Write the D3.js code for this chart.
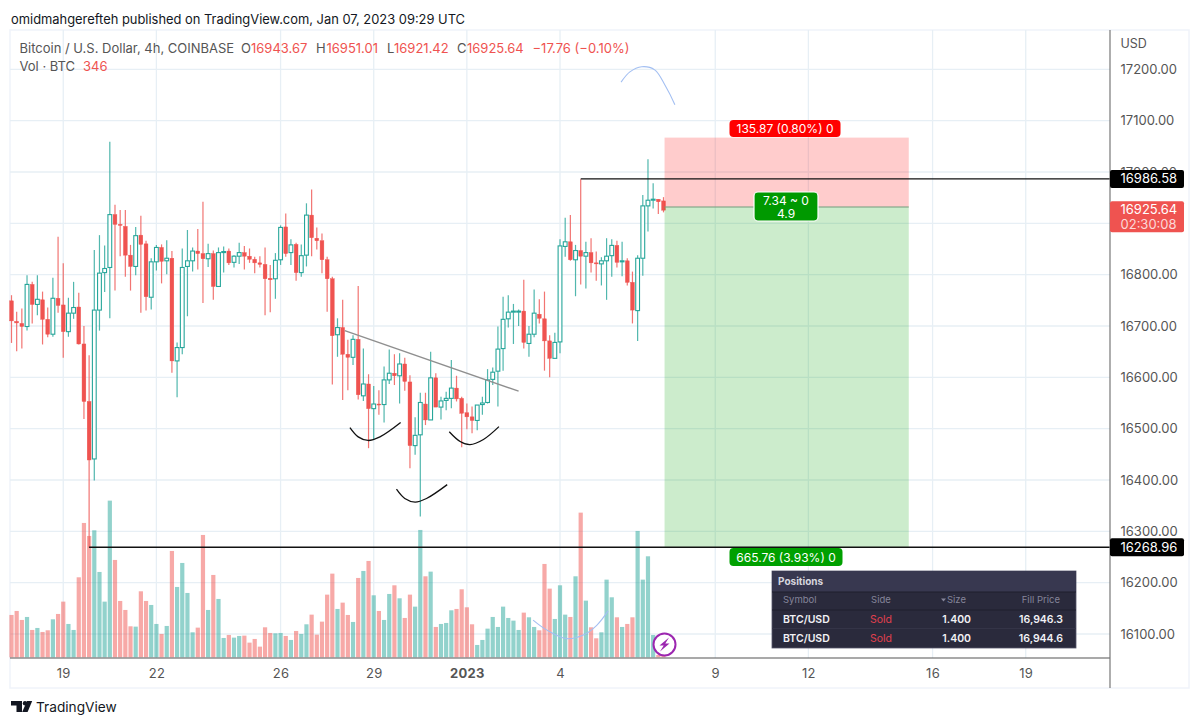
<!DOCTYPE html>
<html>
<head>
<meta charset="utf-8">
<script src="https://d3js.org/d3.v7.min.js"></script>
<style>
  html, body { margin: 0; padding: 0; background: #fff; }
  svg { display: block; }
  text { font-family: Inter, "Liberation Sans", sans-serif; }
</style>
</head>
<body>
<svg id="chart" width="1200" height="726"></svg>
<script>
const opens = [16749,16709,16705,16699,16781,16742,16751,16713,16684,16754,16741,16689,16725,16737,16665,16553,16441,16731,16804,16814,16917,16898,16894,16838,16816,16877,16860,16756,16825,16853,16827,16832,16632,16658,16816,16827,16846,16841,16831,16841,16777,16844,16846,16824,16836,16843,16836,16830,16823,16820,16793,16792,16829,16893,16843,16859,16804,16838,16916,16871,16866,16829,16792,16683,
  16697,16645,16639,16674,16564,16587,16539,16548,16547,16595,16608,16603,16626,16591,16467,16488,16548,16517,16599,16542,16555,16559,16579,16559,16531,16523,16516,16547,16551,16596,16612,16656,16714,16727,16728,16729,16666,16684,16723,16714,16671,16637,16669,16855,16864,16829,16847,16836,16843,16823,16821,16827,16837,16857,16825,16827,16785,16730,16832,16934,16946,16947,16943.67];
const closes = [16710,16706,16699,16781,16742,16752,16713,16684,16754,16740,16689,16725,16736,16665,16553,16439,16731,16803,16812,16917,16898,16896,16838,16816,16876,16859,16757,16825,16853,16826,16832,16632,16658,16814,16827,16846,16841,16831,16841,16777,16843,16845,16823,16836,16843,16836,16830,16823,16820,16792,16790,16828,16892,16841,16858,16804,16837,16916,16872,16866,16829,16792,16681,16697,
  16645,16639,16674,16566,16587,16539,16548,16547,16595,16608,16603,16626,16592,16467,16487,16551,16517,16599,16542,16554,16559,16579,16558,16530,16523,16516,16546,16550,16595,16610,16655,16713,16727,16729,16729,16668,16684,16725,16715,16671,16637,16668,16856,16864,16829,16847,16836,16843,16823,16821,16827,16836,16857,16824,16827,16785,16731,16832,16934,16945,16947,16942,16925.64];
const highs = [16760,16728,16734,16799,16786,16799,16767,16736,16794,16874,16822,16755,16786,16765,16700,16643,16848,16877,16857,17059,16936,16926,16926,16858,16893,16915,16866,16832,16858,16859,16867,16846,16668,16851,16887,16853,16889,16942,16860,16847,16853,16855,16851,16838,16862,16856,16851,16835,16836,16853,16819,16842,16896,16919,16869,16862,16859,16939,16966,16892,16880,16835,16796,16715,
  16751,16673,16682,16778,16656,16606,16583,16575,16621,16654,16645,16647,16638,16604,16522,16570,16570,16650,16608,16562,16572,16634,16603,16562,16549,16543,16546,16562,16616,16619,16699,16757,16760,16743,16732,16790,16700,16771,16752,16767,16682,16687,16869,16911,16916,16858,16986,16864,16871,16845,16834,16871,16869,16866,16864,16832,16806,16838,16955,17025,16978,16947,16951.01];
const lows = [16667,16651,16656,16691,16705,16721,16664,16678,16679,16726,16638,16679,16714,16664,16519,16268,16399,16691,16766,16715,16769,16836,16796,16769,16799,16726,16730,16732,16808,16783,16801,16609,16561,16645,16719,16806,16810,16745,16815,16751,16777,16804,16819,16814,16821,16810,16823,16803,16814,16721,16727,16753,16819,16835,16819,16788,16796,16816,16836,16849,16803,16728,16586,16640,
  16556,16575,16624,16557,16554,16462,16479,16527,16512,16587,16585,16549,16574,16423,16449,16329,16507,16517,16542,16518,16536,16540,16553,16464,16499,16491,16497,16527,16549,16585,16543,16613,16697,16665,16700,16656,16640,16678,16705,16613,16600,16637,16647,16835,16827,16758,16781,16773,16804,16788,16779,16751,16796,16814,16797,16779,16705,16671,16798,16884,16929,16918,16921.42];
const volumes = [1270,1390,1120,1210,820,880,760,810,1140,1300,1670,1000,820,2400,4030,3640,3810,2560,1670,4700,2920,1690,1420,930,920,1980,1690,1570,1000,700,940,3190,2110,2830,1930,750,890,3670,1420,2470,1750,580,670,590,640,650,440,550,320,900,730,720,730,640,520,790,700,990,1280,680,1070,1880,2510,1450,
  1640,1270,1060,2380,2590,2890,1860,1390,1120,1900,2160,1770,1180,1880,1520,3820,2430,2570,910,1000,1030,1410,1450,2040,1500,990,370,520,860,1210,910,1520,1180,1100,820,1340,1200,910,810,2800,2060,1150,2160,1280,1210,2430,4340,1700,900,570,750,2330,1800,1200,910,1000,1200,3790,2330,3030,670,70,346];

const priceTicks = [17200,17100,17000,16900,16800,16700,16600,16500,16400,16300,16200,16100];
const timeBars = [10,28,52,70,88,106,136,154,178,196];
const timeLabels = ['19','22','26','29','2023','4','9','12','16','19'];

const priceAlerts = [16986.58, 16268.96];
const alertFromBar = [110, 15];
const lastPrice = 16925.64;
const entryPrice = 16932, stopPrice = 17067, targetPrice = 16268.96;
const zoneBars = [126.2, 173.4];

// hand drawn bits, as [bar, price]
const neckline = [[64.4,16691],[98,16573]];
const blackCurves = [
  [[65.4,16502],[67,16484],[68.9,16477],[71.2,16484],[75.2,16512]],
  [[74.4,16382],[76,16364],[78,16357],[80.2,16364],[84.2,16391]],
  [[84.6,16494],[86.7,16475],[88.6,16469],[91.2,16479],[94.2,16504]]
];
const blueCurves = [
  [[117.8,17175],[119.5,17195],[121.8,17205],[124.3,17199],[126.3,17169],[128.2,17131]],
  [[100.8,16127],[103.4,16108],[107.3,16091],[110.5,16098],[113.1,16117],[115.3,16145]]
];

const posColumns = ['Symbol','Side','Size','Fill Price'];
const posSymbols = ['BTC/USD','BTC/USD'];
const posSides = ['Sold','Sold'];
const posSizes = ['1.400','1.400'];
const posFills = ['16,946.3','16,944.6'];

const red = '#ef5350', green = '#26a69a';
const chartL = 10, chartR = 1110, chartT = 30, chartB = 658, outerR = 1189, outerB = 688;

const svg = d3.select('#chart');
const x = d3.scaleLinear().domain([0,126]).range([11.5,663.5]);
const y = d3.scaleLinear().domain([17000,16100]).range([172,634]);
const yVol = d3.scaleLinear().domain([0,6000]).range([657.3,457.3]);

// frame + grid
svg.append('rect').attr('x',chartL).attr('y',chartT)
  .attr('width',outerR-chartL).attr('height',outerB-chartT)
  .attr('fill','#fff').attr('stroke','#f0f3fa').attr('stroke-width',1.5);

const grid = svg.append('g').attr('stroke','#e7eff5').attr('stroke-width',1.3);
grid.selectAll('.gx').data(timeBars).join('line')
  .attr('x1',d=>x(d)).attr('x2',d=>x(d)).attr('y1',chartT).attr('y2',chartB);
grid.selectAll('.gy').data(priceTicks).join('line')
  .attr('x1',chartL).attr('x2',chartR).attr('y1',d=>y(d)).attr('y2',d=>y(d));

// volume
const bars = d3.range(opens.length);
svg.append('g').selectAll('rect').data(bars).join('rect')
  .attr('x',i=>x(i)-2.1).attr('width',4.2)
  .attr('y',i=>yVol(volumes[i])).attr('height',i=>yVol(0)-yVol(volumes[i]))
  .attr('fill',i=>closes[i]>=opens[i]?green:red).attr('opacity',0.5);

// candles
const candles = svg.append('g');
candles.selectAll('line').data(bars).join('line')
  .attr('x1',i=>x(i)).attr('x2',i=>x(i))
  .attr('y1',i=>y(highs[i])).attr('y2',i=>y(lows[i]))
  .attr('stroke',i=>closes[i]>=opens[i]?green:red).attr('stroke-width',1.2).attr('opacity',0.8);
candles.selectAll('rect').data(bars).join('rect')
  .attr('x',i=>x(i)-1.9).attr('width',3.8)
  .attr('y',i=>y(Math.max(opens[i],closes[i])))
  .attr('height',i=>Math.max(1,Math.abs(y(opens[i])-y(closes[i]))))
  .attr('fill',i=>closes[i]>=opens[i]?'#fff':red)
  .attr('stroke',i=>closes[i]>=opens[i]?green:red).attr('stroke-width',i=>closes[i]>=opens[i]?1.1:0.4);

// long/short zones
const zoneX = x(zoneBars[0]), zoneW = x(zoneBars[1])-x(zoneBars[0]);
svg.append('rect').attr('x',zoneX).attr('width',zoneW)
  .attr('y',y(stopPrice)).attr('height',y(entryPrice)-y(stopPrice))
  .attr('fill','#ff0000').attr('opacity',0.2);
svg.append('rect').attr('x',zoneX).attr('width',zoneW)
  .attr('y',y(entryPrice)).attr('height',y(targetPrice)-y(entryPrice))
  .attr('fill','#00a000').attr('opacity',0.2);
svg.append('line').attr('x1',zoneX).attr('x2',zoneX+zoneW)
  .attr('y1',y(entryPrice)).attr('y2',y(entryPrice))
  .attr('stroke','#7a9f80').attr('stroke-width',1.5).attr('opacity',0.7);

function badge(cx, top, w, h, fill, lines, outline) {
  const g = svg.append('g');
  g.append('rect').attr('x',cx-w/2).attr('y',top).attr('width',w).attr('height',h).attr('rx',4)
    .attr('fill',fill).attr('stroke',outline||'none').attr('stroke-width',1.2);
  lines.forEach((t,k)=>{
    g.append('text').attr('x',cx).attr('y',top+(lines.length>1?12.5+k*13:h/2+4.5))
      .attr('text-anchor','middle').attr('fill','#fff').attr('font-size',12).text(t);
  });
}
badge(785,120,111,17,'#ff0000',['135.87 (0.80%) 0']);
badge(786,192,64,29,'#009900',['7.34 ~ 0','4.9'],'#fff');
badge(786,548,113,18,'#00a000',['665.76 (3.93%) 0']);

// drawings
const lineFn = d3.line().x(d=>x(d[0])).y(d=>y(d[1]));
const curveFn = d3.line().x(d=>x(d[0])).y(d=>y(d[1])).curve(d3.curveCatmullRom);
svg.append('path').attr('d',lineFn(neckline)).attr('fill','none').attr('stroke','#8f8f8f').attr('stroke-width',1.4);
svg.selectAll('.bc').data(blackCurves).join('path').attr('d',curveFn)
  .attr('fill','none').attr('stroke','#111').attr('stroke-width',1.3);
svg.selectAll('.bl').data(blueCurves).join('path').attr('d',curveFn)
  .attr('fill','none').attr('stroke','#a3bff2').attr('stroke-width',1.1);

priceAlerts.forEach((p,k)=>{
  svg.append('line').attr('x1',x(alertFromBar[k])).attr('x2',chartR)
    .attr('y1',y(p)).attr('y2',y(p)).attr('stroke','#111').attr('stroke-width',1.4);
});

// axes
svg.append('line').attr('x1',chartL).attr('x2',chartR).attr('y1',chartB).attr('y2',chartB)
  .attr('stroke','#555').attr('stroke-width',1.2);
svg.append('line').attr('x1',chartR).attr('x2',chartR).attr('y1',chartT).attr('y2',outerB)
  .attr('stroke','#777').attr('stroke-width',1.2);

const xAxis = d3.axisBottom(x).tickValues(timeBars).tickSize(0).tickPadding(0)
  .tickFormat((d,i)=>timeLabels[i]);
const gx = svg.append('g').attr('transform',`translate(0,${chartB+11})`).call(xAxis);
gx.select('.domain').remove();
gx.selectAll('text').attr('font-size',13).attr('fill','#555')
  .attr('letter-spacing',0.3)
  .style('font-family','Inter, sans-serif')
  .attr('font-weight',(d,i)=>timeLabels[i]==='2023'?700:400);

const yAxis = d3.axisRight(y).tickValues(priceTicks).tickSize(0).tickPadding(0)
  .tickFormat(d3.format('.2f'));
const gy = svg.append('g').attr('transform',`translate(1120.5,0)`).call(yAxis);
gy.select('.domain').remove();
gy.selectAll('text').attr('font-size',13).attr('fill','#555')
  .style('font-family','Inter, sans-serif');
svg.append('text').attr('x',1120.5).attr('y',48).attr('font-size',12.5).attr('fill','#555').text('USD');

// price labels on axis
function axisTag(p, fill, h, lines) {
  const cy = y(p);
  const g = svg.append('g');
  g.append('rect').attr('x',chartR).attr('y',cy-h/2).attr('width',74).attr('height',h).attr('rx',2).attr('fill',fill);
  lines.forEach((t,k)=>{
    g.append('text').attr('x',1120.5).attr('y',cy+4.5+(lines.length>1?(k-0.5)*15:0))
      .attr('font-size',13).attr('fill',k?'#fcd9d8':'#fff').text(t);
  });
}
axisTag(priceAlerts[0],'#000',18,[d3.format('.2f')(priceAlerts[0])]);
axisTag(priceAlerts[1],'#000',18,[d3.format('.2f')(priceAlerts[1])]);
svg.append('g').call(()=>{
  const cy = y(lastPrice)+6.5;
  const g = svg.append('g');
  g.append('rect').attr('x',chartR).attr('y',cy-15.5).attr('width',74).attr('height',31).attr('rx',2).attr('fill',red);
  g.append('text').attr('x',1120.5).attr('y',cy-3).attr('font-size',13).attr('fill','#fff').text(d3.format('.2f')(lastPrice));
  g.append('text').attr('x',1120.5).attr('y',cy+12).attr('font-size',13).attr('fill','#fcd9d8').text('02:30:08');
});

// header text
svg.append('text').attr('x',11).attr('y',23.5).attr('font-size',12.9).attr('fill','#131722')
  .text('omidmahgerefteh published on TradingView.com, Jan 07, 2023 09:29 UTC');

const legendGrey = '#555', legendRed = '#ef5350';
[
  [19.5,'Bitcoin / U.S. Dollar, 4h, COINBASE',legendGrey],
  [241,'O',legendGrey],[251,'16943.67',legendRed],
  [316,'H',legendGrey],[326.5,'16951.01',legendRed],
  [387,'L',legendGrey],[394,'16921.42',legendRed],
  [457,'C',legendGrey],[467,'16925.64',legendRed],
  [532.5,'\u221217.76 (\u22120.10%)',legendRed],
].forEach(d=>{
  svg.append('text').attr('x',d[0]).attr('y',53).attr('font-size',13).attr('fill',d[2]).text(d[1]);
});
svg.append('text').attr('x',19.5).attr('y',71).attr('font-size',13).attr('fill',legendGrey).text('Vol \u00b7 BTC');
svg.append('text').attr('x',83).attr('y',71).attr('font-size',13).attr('fill',legendRed).text(volumes[volumes.length-1]);

// positions panel
const panel = svg.append('g');
panel.append('rect').attr('x',772).attr('y',571).attr('width',304).attr('height',77)
  .attr('fill','#2a2a3c').attr('stroke','#55566a').attr('stroke-width',0.8);
panel.append('rect').attr('x',772).attr('y',571).attr('width',304).attr('height',21).attr('fill','#383850');
panel.append('line').attr('x1',772).attr('x2',1076).attr('y1',610).attr('y2',610).attr('stroke','#1f1f2d');
panel.append('line').attr('x1',772).attr('x2',1076).attr('y1',628.5).attr('y2',628.5).attr('stroke','#343447');
panel.append('line').attr('x1',772).attr('x2',1076).attr('y1',592).attr('y2',592).attr('stroke','#1f1f2d');
panel.append('text').attr('x',778).attr('y',585).attr('font-size',10).attr('font-weight',700).attr('fill','#d6d6de').text('Positions');
const headX = [783,881,966,1060], headAnchor = ['start','middle','end','end'];
posColumns.forEach((c,k)=>{
  panel.append('text').attr('x',headX[k]).attr('y',603).attr('font-size',9.5).attr('text-anchor',headAnchor[k]).attr('fill','#85859a').text(c);
});
panel.append('path').attr('d','M941 598.5h5l-2.5 3z').attr('fill','#85859a');
posSymbols.forEach((s,k)=>{
  const ty = 623+k*18.7;
  panel.append('text').attr('x',783).attr('y',ty).attr('font-size',10.5).attr('font-weight',600).attr('fill','#f1f1f5').text(s);
  panel.append('text').attr('x',881).attr('y',ty).attr('font-size',10.5).attr('text-anchor','middle').attr('fill','#e0404e').text(posSides[k]);
  panel.append('text').attr('x',971).attr('y',ty).attr('font-size',10.5).attr('font-weight',600).attr('text-anchor','end').attr('fill','#f1f1f5').text(posSizes[k]);
  panel.append('text').attr('x',1063).attr('y',ty).attr('font-size',10.5).attr('font-weight',600).attr('text-anchor','end').attr('fill','#f1f1f5').text(posFills[k]);
});

// lightning icon
const icon = svg.append('g').attr('transform','translate(664.5,644.5)');
icon.append('circle').attr('r',11).attr('fill','#fff').attr('stroke','#9c27b0').attr('stroke-width',2);
icon.append('path').attr('d','M4.5 -7 L-5 1 L-0.8 1 L-4.5 7 L5 -1 L0.8 -1 Z').attr('fill','#9c27b0');

// logo + footer
const logo = svg.append('g').attr('fill','#131722');
logo.append('path').attr('d','M11 701h11v11h-5.5v-6.5H11z');
logo.append('circle').attr('cx',25).attr('cy',703.2).attr('r',2.2);
logo.append('path').attr('d','M27 701h5.2l-4.6 11h-5.4z');
svg.append('text').attr('x',36).attr('y',712).attr('font-size',13.7).attr('fill','#131722').text('TradingView');
</script>
</body>
</html>
